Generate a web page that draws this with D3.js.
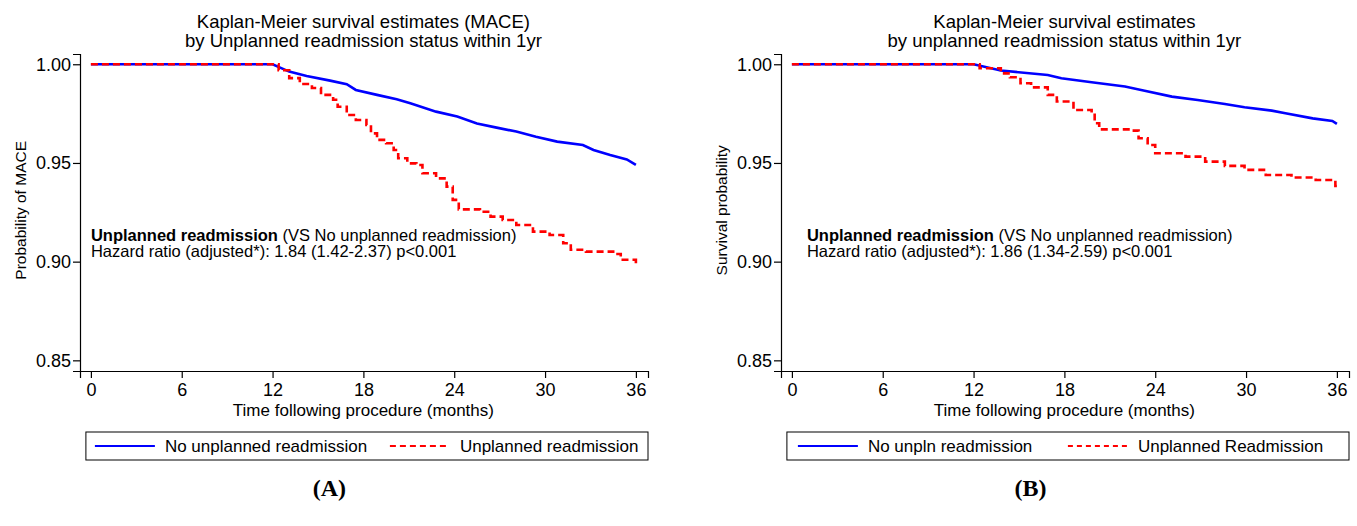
<!DOCTYPE html>
<html>
<head>
<meta charset="utf-8">
<script src="https://cdn.jsdelivr.net/npm/d3@7"></script>
<style>
  body { margin: 0; background: #fff; }
  svg text { font-family: "Liberation Sans", Arial, sans-serif; fill: #000; }
  .panel-tag { font-family: "Liberation Serif", "Times New Roman", serif; font-weight: bold; }
</style>
</head>
<body>
<svg id="chart" width="1357" height="526"></svg>
<script>
// --- data (months, survival) ---
var xTicks = [0, 6, 12, 18, 24, 30, 36];
var yTicks = [0.85, 0.90, 0.95, 1.00];

// panel A, MACE
var timeA_no = [0, 12, 13.1, 14.25, 15.8, 16.9, 17.5, 18.9, 20.2, 21.1, 22.8, 24.2, 25.5, 26.8, 28.1, 29.4, 30.8, 32.5, 33.2, 34.3, 35.4, 36];
var survA_no = [1, 1, 0.9963, 0.9941, 0.9917, 0.9899, 0.987, 0.9845, 0.9823, 0.9802, 0.976, 0.9735, 0.970, 0.9679, 0.9659, 0.9633, 0.9608, 0.9591, 0.9566, 0.954, 0.9518, 0.949];
var timeA_un = [0, 12, 12.4, 13.1, 13.8, 14.6, 15.2, 16.0, 16.3, 16.9, 17.5, 18.2, 18.5, 18.9, 19.5, 20.0, 20.3, 20.9, 21.5, 21.9, 22.8, 23.5, 23.9, 24.3, 25.7, 26.4, 27.2, 28.1, 29.2, 30.3, 31.2, 31.7, 32.7, 34.5, 35.0, 36];
var survA_un = [1, 1, 0.997, 0.993, 0.990, 0.988, 0.9845, 0.982, 0.9785, 0.9743, 0.9718, 0.9692, 0.965, 0.9617, 0.960, 0.9566, 0.9524, 0.9498, 0.949, 0.9448, 0.9422, 0.938, 0.9313, 0.9265, 0.9253, 0.9228, 0.9211, 0.9186, 0.9152, 0.9135, 0.9093, 0.906, 0.9051, 0.9039, 0.901, 0.8975];

// panel B, survival
var timeB_no = [0, 12, 13.8, 16.9, 17.8, 19.8, 22.0, 23.3, 25.1, 26.8, 28.6, 29.9, 31.7, 32.6, 34.4, 35.7, 36];
var survB_no = [1, 1, 0.9968, 0.9946, 0.9929, 0.9909, 0.9887, 0.9866, 0.9836, 0.9819, 0.9799, 0.9782, 0.9765, 0.9752, 0.9726, 0.9713, 0.9698];
var timeB_un = [0, 12, 12.4, 13.8, 14.4, 15.1, 15.8, 16.9, 17.5, 18.6, 19.8, 20.0, 20.3, 22.4, 22.9, 23.5, 24.0, 26.0, 27.3, 28.6, 29.9, 31.3, 33.0, 34.6, 35.9, 36];
var survB_un = [1, 1, 0.998, 0.9954, 0.9934, 0.9904, 0.9883, 0.9845, 0.9811, 0.9768, 0.9752, 0.9701, 0.967, 0.9664, 0.9625, 0.9591, 0.9549, 0.9532, 0.9507, 0.9485, 0.9465, 0.9439, 0.9426, 0.9414, 0.9383, 0.9383];

var panels = [
    {
        left: 0,
        tag: '(A)',
        title: ['Kaplan-Meier survival estimates (MACE)', 'by Unplanned readmission status within 1yr'],
        yLabel: 'Probability of MACE',
        hr: 'Hazard ratio (adjusted*): 1.84 (1.42-2.37) p<0.001',
        legend: ['No unplanned readmission', 'Unplanned readmission'],
        legendX: [9, 304],
        legendDash: '6,4',
        noteDx: 0,
        series: [[timeA_no, survA_no], [timeA_un, survA_un]]
    },
    {
        left: 701,
        tag: '(B)',
        title: ['Kaplan-Meier survival estimates', 'by unplanned readmission status within 1yr'],
        yLabel: 'Survival probability',
        hr: 'Hazard ratio (adjusted*): 1.86 (1.34-2.59) p<0.001',
        legend: ['No unpln readmission', 'Unplanned Readmission'],
        legendX: [11, 281],
        legendDash: '5,4',
        noteDx: 15,
        series: [[timeB_no, survB_no], [timeB_un, survB_un]]
    }
];

var colors = ['#0000ff', '#ff0000'];
var dashes = [null, '7,4'];
// blue curve has many tiny steps: drawn as a line; red has few, drawn as steps
var curves = [d3.curveLinear, d3.curveStepAfter];

var svg = d3.select('#chart');

panels.forEach(function(p) {
    var g = svg.append('g').attr('transform', 'translate(' + p.left + ',0)');

    // axes overshoot the data range a little, like Stata does
    var x = d3.scaleLinear().domain([-0.72, 36.8]).range([80, 648]);
    var y = d3.scaleLinear().domain([0.8446, 1.0052]).range([371, 54]);
    var cx = (x(0) + x(36)) / 2;

    g.append('text')
        .attr('x', cx).attr('y', 28)
        .attr('text-anchor', 'middle')
        .style('font-size', '18.5px')
        .selectAll('tspan')
        .data(p.title)
        .join('tspan')
        .attr('x', cx)
        .attr('dy', function(d, i) { return i ? 19 : 0; })
        .text(function(d) { return d; });

    var yAxis = d3.axisLeft(y).tickValues(yTicks).tickFormat(d3.format('.2f')).tickSizeOuter(0).tickSize(7).tickPadding(2);
    var xAxis = d3.axisBottom(x).tickValues(xTicks).tickSizeOuter(0).tickSize(7).tickPadding(5);

    var gY = g.append('g').attr('transform', 'translate(80,0)').call(yAxis);
    var gX = g.append('g').attr('transform', 'translate(0,371)').call(xAxis);
    [gY, gX].forEach(function(a) {
        a.selectAll('text').style('font-size', '18px').attr('fill', '#000');
        a.selectAll('line, path').attr('stroke', '#000').attr('stroke-width', 1.2);
    });

    g.append('text')
        .attr('transform', 'translate(' + (x(0) - 65) + ',' + y(0.926) + ') rotate(-90)')
        .attr('text-anchor', 'middle')
        .style('font-size', '15.5px')
        .text(p.yLabel);

    g.append('text')
        .attr('x', cx).attr('y', 416)
        .attr('text-anchor', 'middle')
        .style('font-size', '17px')
        .text('Time following procedure (months)');

    // annotation
    var note = g.append('text')
        .attr('x', x(0) + p.noteDx).attr('y', y(0.9106))
        .style('font-size', '16.5px');
    note.append('tspan').style('font-weight', 'bold').text('Unplanned readmission');
    note.append('tspan').text(' (VS No unplanned readmission)');
    g.append('text')
        .attr('x', x(0) + p.noteDx).attr('y', y(0.9025))
        .style('font-size', '16.5px')
        .text(p.hr);

    // survival curves
    p.series.forEach(function(s, i) {
        var line = d3.line()
            .curve(curves[i])
            .x(function(d) { return x(d[0]); })
            .y(function(d) { return y(d[1]); });
        var pts = s[0].map(function(t, k) { return [t, s[1][k]]; });
        g.append('path')
            .datum(pts)
            .attr('d', line)
            .attr('fill', 'none')
            .attr('stroke', colors[i])
            .attr('stroke-width', 2.6)
            .attr('stroke-dasharray', dashes[i]);
    });

    // legend
    var lx = x(0) - 5, lw = x(36.8) - lx;
    var leg = g.append('g').attr('transform', 'translate(' + lx + ',432)');
    leg.append('rect')
        .attr('width', lw).attr('height', 28)
        .attr('fill', '#fff').attr('stroke', '#000').attr('stroke-width', 1);
    p.legend.forEach(function(name, i) {
        var lx0 = p.legendX[i];
        leg.append('line')
            .attr('x1', lx0).attr('x2', lx0 + 60)
            .attr('y1', 14).attr('y2', 14)
            .attr('stroke', colors[i]).attr('stroke-width', 1.8)
            .attr('stroke-dasharray', dashes[i] ? p.legendDash : null);
        leg.append('text')
            .attr('x', lx0 + 70).attr('y', 20)
            .style('font-size', '17px')
            .text(name);
    });

    g.append('text')
        .attr('class', 'panel-tag')
        .attr('x', cx - 34).attr('y', 496)
        .attr('text-anchor', 'middle')
        .style('font-size', '24px')
        .text(p.tag);
});
</script>
</body>
</html>
